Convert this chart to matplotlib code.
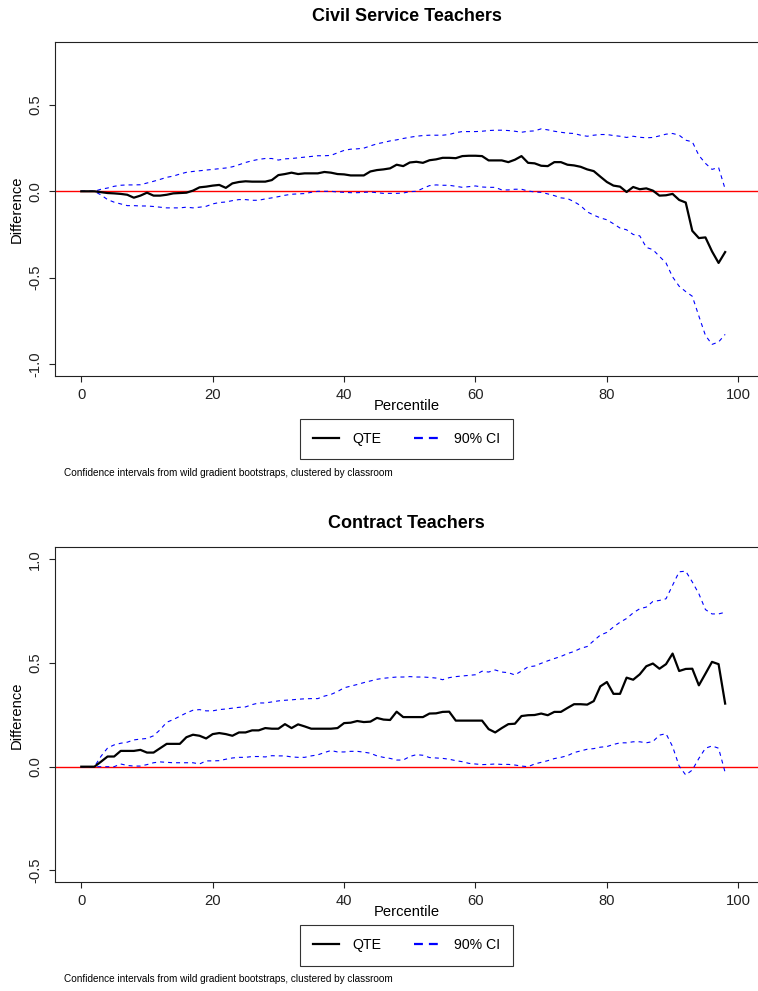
import matplotlib
matplotlib.use("Agg")
import matplotlib.pyplot as plt
from matplotlib.lines import Line2D

plt.rcParams['font.family'] = ['Liberation Sans', 'DejaVu Sans']

# percentiles 0..98
pct = list(range(99))

civil_qte = [0.0, 0.0, 0.0, -0.005, -0.01, -0.012, -0.015, -0.02, -0.037, -0.025,
             -0.008, -0.025, -0.025, -0.02, -0.012, -0.01, -0.008, 0.004, 0.023, 0.027,
             0.033, 0.037, 0.02, 0.046, 0.054, 0.058, 0.056, 0.056, 0.056, 0.065,
             0.094, 0.1, 0.108, 0.1, 0.104, 0.104, 0.104, 0.112, 0.108, 0.1,
             0.098, 0.092, 0.092, 0.092, 0.115, 0.123, 0.127, 0.133, 0.154, 0.146,
             0.167, 0.171, 0.165, 0.18, 0.185, 0.194, 0.194, 0.192, 0.204, 0.206,
             0.206, 0.204, 0.179, 0.179, 0.179, 0.169, 0.183, 0.204, 0.165, 0.162,
             0.148, 0.146, 0.169, 0.169, 0.154, 0.15, 0.142, 0.127, 0.117, 0.085,
             0.054, 0.033, 0.027, -0.004, 0.025, 0.012, 0.017, 0.004, -0.025, -0.023,
             -0.015, -0.05, -0.065, -0.229, -0.271, -0.267, -0.348, -0.415, -0.352]

civil_hi = [0.0, 0.0, 0.0, 0.012, 0.019, 0.029, 0.035, 0.037, 0.037, 0.038,
            0.048, 0.058, 0.069, 0.081, 0.088, 0.1, 0.11, 0.115, 0.119, 0.123,
            0.127, 0.131, 0.135, 0.142, 0.154, 0.167, 0.177, 0.185, 0.19, 0.19,
            0.181, 0.188, 0.19, 0.194, 0.198, 0.202, 0.206, 0.206, 0.208, 0.223,
            0.237, 0.244, 0.246, 0.25, 0.263, 0.275, 0.283, 0.292, 0.298, 0.306,
            0.313, 0.319, 0.323, 0.325, 0.325, 0.325, 0.329, 0.34, 0.346, 0.346,
            0.346, 0.348, 0.352, 0.354, 0.354, 0.352, 0.348, 0.342, 0.348, 0.35,
            0.362, 0.356, 0.348, 0.342, 0.337, 0.335, 0.325, 0.319, 0.325, 0.329,
            0.329, 0.323, 0.319, 0.312, 0.319, 0.313, 0.31, 0.312, 0.321, 0.331,
            0.335, 0.325, 0.296, 0.287, 0.208, 0.162, 0.127, 0.138, 0.013]

civil_lo = [0.0, 0.0, 0.0, -0.021, -0.048, -0.063, -0.073, -0.083, -0.083, -0.085,
            -0.085, -0.088, -0.092, -0.096, -0.096, -0.096, -0.092, -0.096, -0.092, -0.087,
            -0.073, -0.065, -0.062, -0.054, -0.048, -0.048, -0.052, -0.052, -0.044, -0.038,
            -0.031, -0.023, -0.017, -0.015, -0.013, -0.006, 0.0, 0.0, 0.0, -0.004,
            -0.006, -0.008, -0.008, -0.006, -0.004, -0.008, -0.012, -0.012, -0.012, -0.01,
            -0.002, 0.0, 0.017, 0.033, 0.037, 0.035, 0.035, 0.029, 0.023, 0.027,
            0.031, 0.025, 0.023, 0.023, 0.008, 0.008, 0.012, 0.012, 0.002, -0.004,
            -0.006, -0.015, -0.025, -0.038, -0.042, -0.06, -0.083, -0.119, -0.138, -0.154,
            -0.165, -0.188, -0.213, -0.223, -0.25, -0.258, -0.325, -0.338, -0.377, -0.415,
            -0.496, -0.55, -0.581, -0.608, -0.723, -0.835, -0.887, -0.873, -0.829]

contract_qte = [0.0, 0.0, 0.0, 0.024, 0.049, 0.049, 0.076, 0.076, 0.076, 0.081,
                0.068, 0.068, 0.089, 0.11, 0.11, 0.11, 0.142, 0.154, 0.149, 0.136,
                0.157, 0.162, 0.157, 0.149, 0.165, 0.165, 0.175, 0.175, 0.186, 0.183,
                0.183, 0.205, 0.186, 0.204, 0.194, 0.183, 0.183, 0.183, 0.183, 0.186,
                0.21, 0.212, 0.22, 0.215, 0.217, 0.235, 0.227, 0.225, 0.265, 0.239,
                0.239, 0.239, 0.239, 0.256, 0.257, 0.264, 0.265, 0.222, 0.222, 0.222,
                0.222, 0.222, 0.181, 0.165, 0.186, 0.205, 0.207, 0.244, 0.248, 0.249,
                0.256, 0.248, 0.264, 0.264, 0.283, 0.301, 0.301, 0.299, 0.316, 0.387,
                0.408, 0.351, 0.351, 0.429, 0.419, 0.445, 0.484, 0.497, 0.472, 0.494,
                0.545, 0.461, 0.471, 0.472, 0.392, 0.448, 0.505, 0.494, 0.304]

contract_hi = [0.0, 0.0, 0.0, 0.05, 0.09, 0.105, 0.113, 0.118, 0.129, 0.133,
               0.136, 0.149, 0.178, 0.214, 0.227, 0.243, 0.259, 0.272, 0.275, 0.269,
               0.269, 0.275, 0.278, 0.282, 0.286, 0.288, 0.299, 0.307, 0.307, 0.312,
               0.317, 0.32, 0.322, 0.325, 0.327, 0.328, 0.328, 0.34, 0.348, 0.362,
               0.38, 0.388, 0.396, 0.405, 0.413, 0.421, 0.426, 0.429, 0.432, 0.432,
               0.434, 0.432, 0.432, 0.43, 0.427, 0.419, 0.429, 0.434, 0.437, 0.44,
               0.443, 0.46, 0.456, 0.466, 0.456, 0.453, 0.442, 0.461, 0.481, 0.485,
               0.498, 0.51, 0.521, 0.531, 0.545, 0.555, 0.57, 0.579, 0.607, 0.634,
               0.647, 0.673, 0.696, 0.714, 0.741, 0.761, 0.769, 0.796, 0.801, 0.809,
               0.874, 0.939, 0.942, 0.89, 0.833, 0.757, 0.736, 0.736, 0.744]

contract_lo = [0.0, 0.0, 0.0, 0.0, 0.0, 0.0, 0.013, 0.006, 0.003, 0.003,
               0.01, 0.019, 0.023, 0.021, 0.019, 0.019, 0.019, 0.019, 0.013, 0.028,
               0.028, 0.029, 0.036, 0.042, 0.045, 0.045, 0.049, 0.049, 0.047, 0.053,
               0.052, 0.052, 0.047, 0.045, 0.045, 0.052, 0.057, 0.068, 0.078, 0.071,
               0.071, 0.074, 0.074, 0.07, 0.065, 0.052, 0.045, 0.04, 0.032, 0.032,
               0.049, 0.058, 0.055, 0.044, 0.042, 0.04, 0.036, 0.029, 0.024, 0.016,
               0.013, 0.01, 0.011, 0.013, 0.011, 0.011, 0.008, 0.003, 0.0, 0.013,
               0.021, 0.029, 0.039, 0.045, 0.053, 0.068, 0.076, 0.084, 0.087, 0.094,
               0.097, 0.107, 0.115, 0.115, 0.12, 0.12, 0.115, 0.121, 0.152, 0.159,
               0.097, 0.003, -0.04, -0.016, 0.04, 0.089, 0.1, 0.089, -0.028]

titles = ["Civil Service Teachers", "Contract Teachers"]
note = "Confidence intervals from wild gradient bootstraps, clustered by classroom"
xticks = [0, 20, 40, 60, 80, 100]

W, H = 758, 991
fig = plt.figure(figsize=(W / 100, H / 100), dpi=100)


def panel(top_px, bot_px, title_base_px, qte, lo, hi, title, ylim, yticks):
    ax = fig.add_axes([55 / W, 1 - bot_px / H, 1 - 55 / W, (bot_px - top_px) / H])
    ax.axhline(0, color='#ff0000', lw=1.0, zorder=1)
    ax.plot(pct, hi, color='blue', lw=0.8, ls=(0, (3.6, 3.6)), zorder=2)
    ax.plot(pct, lo, color='blue', lw=0.8, ls=(0, (3.6, 3.6)), zorder=2)
    ax.plot(pct, qte, color='black', lw=1.6, zorder=3)
    ax.set_xlim(-4, 103)
    ax.set_ylim(*ylim)
    ax.set_xticks(xticks)
    ax.set_yticks(yticks)
    ax.set_yticklabels(["%.1f" % v for v in yticks], rotation=90, va='center')
    ax.tick_params(direction='out', length=4.3, width=0.8, labelsize=10.6,
                   colors='#222222')
    ax.tick_params(axis='y', pad=5)
    ax.tick_params(axis='x', pad=4)
    ax.spines['right'].set_visible(False)
    for s in ['left', 'top', 'bottom']:
        ax.spines[s].set_linewidth(0.8)
        ax.spines[s].set_color('#222222')
    ax.set_xlabel("Percentile", fontsize=10.6, labelpad=-2)
    ax.set_ylabel("Difference", fontsize=10.6, labelpad=3)
    fig.text(406.5 / W, 1 - title_base_px / H, title, ha='center', va='baseline',
             fontsize=13, fontweight='bold')
    handles = [Line2D([], [], color='black', lw=1.6),
               Line2D([], [], color='blue', lw=1.6, ls=(0, (4.0, 2.7)))]
    leg = ax.legend(handles, ["QTE", "90% CI"], ncol=2, loc='center',
                    bbox_to_anchor=(406.5 / W, 1 - (bot_px + 63) / H),
                    bbox_transform=fig.transFigure, frameon=True, fancybox=False,
                    edgecolor='black', fontsize=10.2, handlelength=1.85,
                    handletextpad=0.95, columnspacing=2.3, borderpad=0.95)
    leg.get_frame().set_linewidth(0.8)
    fig.text(64 / W, 1 - (bot_px + 97) / H, note, ha='left', va='center',
             fontsize=7.2)
    return ax


panel(42, 376, 21, civil_qte, civil_lo, civil_hi, titles[0], (-1.07, 0.865),
      [-1.0, -0.5, 0.0, 0.5])
panel(547.3, 882.3, 528, contract_qte, contract_lo, contract_hi, titles[1],
      (-0.557, 1.057), [-0.5, 0.0, 0.5, 1.0])

fig.savefig("out.png", dpi=100)
